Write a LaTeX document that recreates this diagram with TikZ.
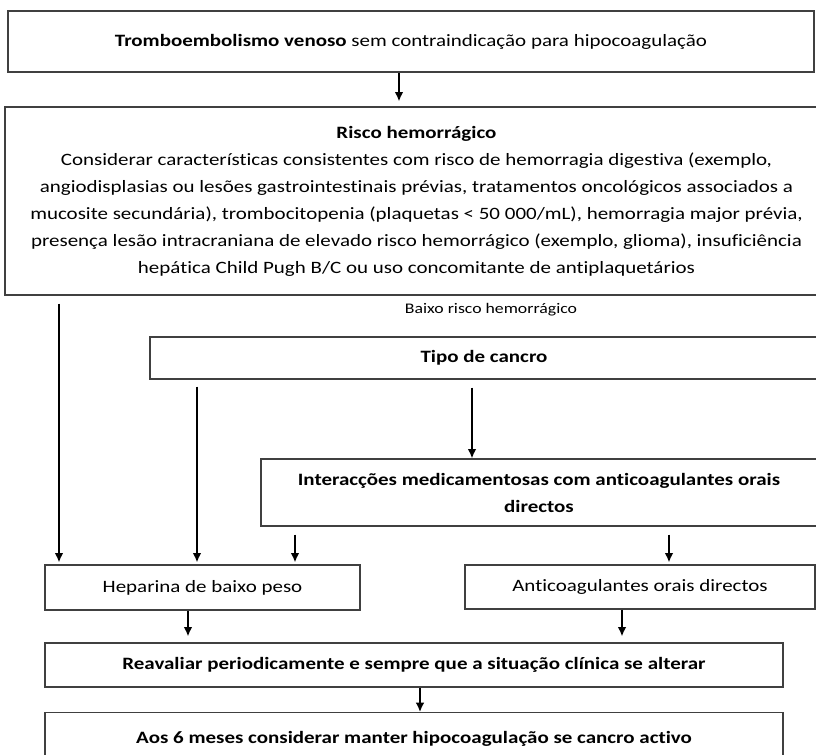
\documentclass[tikz,border=0pt]{standalone}
\usepackage{fontspec}
\setmainfont{Carlito}[FakeStretch=1.21, Ligatures={NoCommon}]
\usetikzlibrary{arrows.meta}

\tikzset{
    caixa/.style={draw=black!75, line width=0.9pt, fill=white, align=center, inner sep=0pt,
        font=\fontsize{13}{20.25}\selectfont},
    seta/.style={-{Latex[length=7pt,width=6.5pt]}, line width=1.3pt}
}

\begin{document}
\begin{tikzpicture}[x=0.75pt, y=-0.75pt]

\useasboundingbox (0,0) rectangle (816,754);

% Caixas
\node[caixa, minimum width=604.5pt, minimum height=45.75pt] (trombo) at (411,41.5)
    {\textbf{Tromboembolismo venoso} sem contraindicação para hipocoagulação};
\node[caixa, minimum width=617.25pt, minimum height=141pt] (risco) at (416.5,201)
    {\textbf{Risco hemorrágico}\\
    Considerar características consistentes com risco de hemorragia digestiva (exemplo,\\
    angiodisplasias ou lesões gastrointestinais prévias, tratamentos oncológicos associados a\\
    mucosite secundária), trombocitopenia (plaquetas < 50 000/mL), hemorragia major prévia,\\
    presença lesão intracraniana de elevado risco hemorrágico (exemplo, glioma), insuficiência\\
    hepática Child Pugh B/C ou uso concomitante de antiplaquetários};
\node[font=\fontsize{11}{12}\selectfont, inner sep=0pt] (baixo) at (491,310) {Baixo risco hemorrágico};
\node[caixa, minimum width=501pt, minimum height=31.5pt] (tipo) at (484,358) {\textbf{Tipo de cancro}};
\node[caixa, minimum width=417pt, minimum height=50.25pt] (inter) at (539,492.5)
    {\textbf{Interacções medicamentosas com anticoagulantes orais}\\ \textbf{directos}};
\node[caixa, minimum width=236.25pt, minimum height=33.75pt] (hep) at (202.5,587.5) {Heparina de baixo peso};
\node[caixa, minimum width=262.5pt, minimum height=33pt] (doac) at (640,587) {Anticoagulantes orais directos};
\node[caixa, minimum width=553.5pt, minimum height=33pt] (reav) at (414,665)
    {\textbf{Reavaliar periodicamente e sempre que a situação clínica se alterar}};
\node[caixa, minimum width=553.5pt, minimum height=39pt, anchor=north] (aos) at (414,712)
    {\textbf{Aos 6 meses considerar manter hipocoagulação se cancro activo}};

% Posicoes das setas
\coordinate (xa) at (399,0);
\coordinate (xb) at (59,0);
\coordinate (xc) at (197,0);
\coordinate (xd) at (472,0);
\coordinate (xe) at (295,0);
\coordinate (xf) at (669,0);
\coordinate (xg) at (188,0);
\coordinate (xh) at (622,0);
\coordinate (xi) at (420,0);

% Setas
\draw[seta, shorten >=3.75pt] (trombo.south -| xa) -- (risco.north -| xa);
\draw[seta, shorten <=6pt, shorten >=1.5pt] (risco.south -| xb) -- (hep.north -| xb);
\draw[seta, shorten <=5.25pt, shorten >=1.5pt] (tipo.south -| xc) -- (hep.north -| xc);
\draw[seta, shorten <=6pt] (tipo.south -| xd) -- (inter.north -| xd);
\draw[seta, shorten <=6pt, shorten >=1.5pt] (inter.south -| xe) -- (hep.north -| xe);
\draw[seta, shorten <=6pt, shorten >=1.5pt] (inter.south -| xf) -- (doac.north -| xf);
\draw[seta, shorten >=4.5pt] (hep.south -| xg) -- (reav.north -| xg);
\draw[seta, shorten >=4.5pt] (doac.south -| xh) -- (reav.north -| xh);
\draw[seta] (reav.south -| xi) -- (aos.north -| xi);

\end{tikzpicture}
\end{document}
